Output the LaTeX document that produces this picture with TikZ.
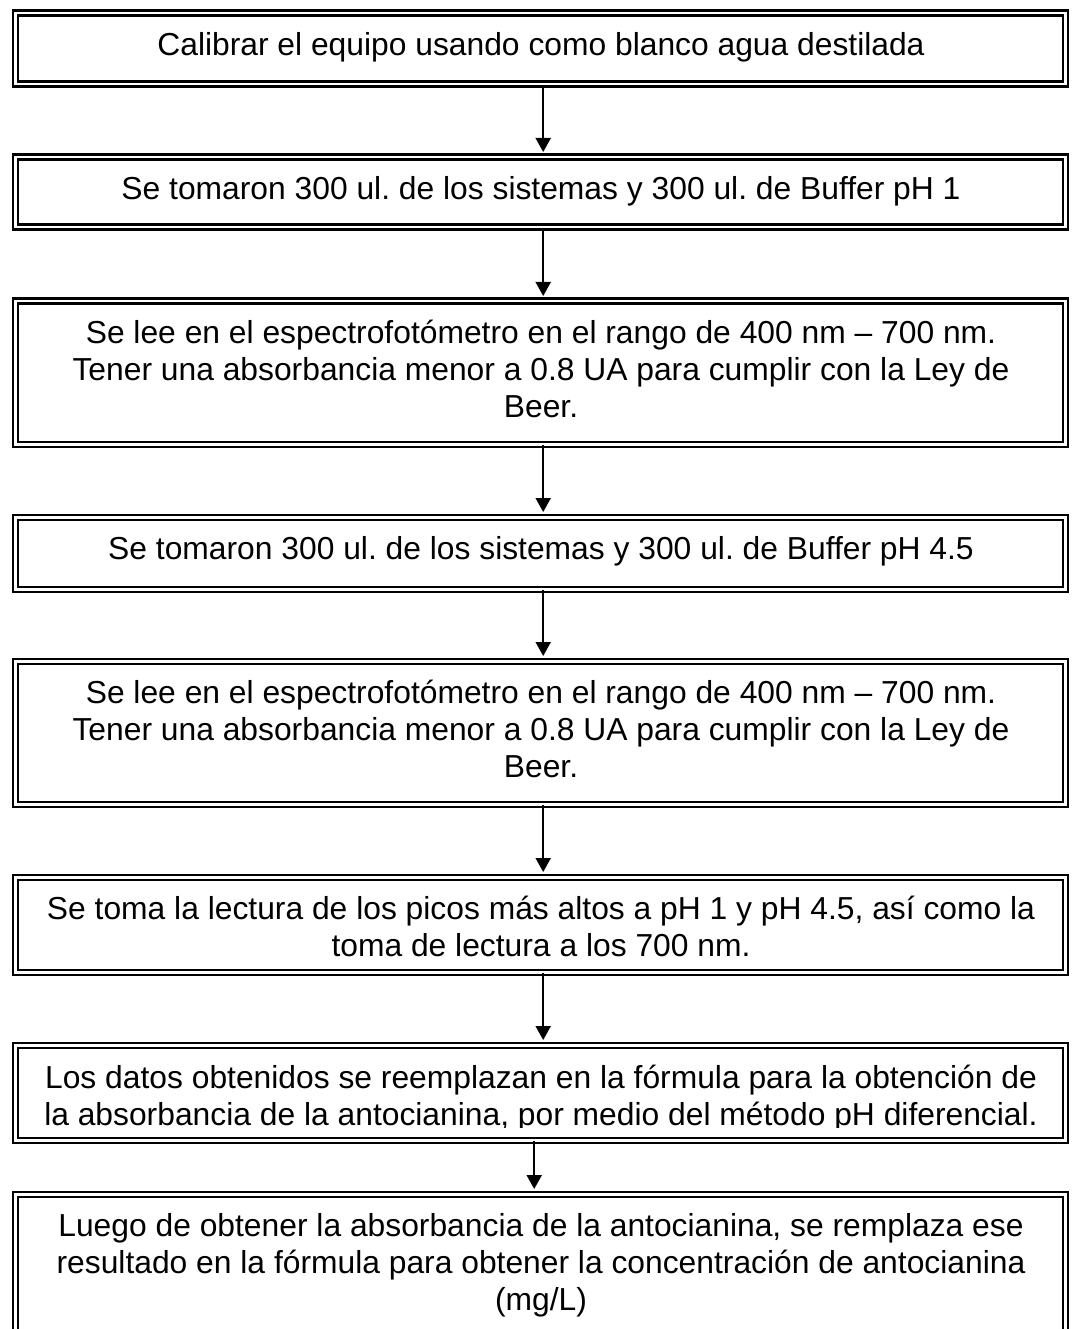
\documentclass[tikz,border=0pt]{standalone}
\usepackage{fontspec}
\setmainfont{Liberation Sans}
\usetikzlibrary{arrows.meta}
\frenchspacing
\begin{document}
\begin{tikzpicture}[x=1pt,y=-1pt,
  stepbox/.style={draw=black, double=white, double distance=2.6pt, line width=2.4pt,
    minimum width=1050pt, anchor=north west, inner sep=0pt},
  txt/.style={font=\fontsize{31.8}{37}\selectfont\frenchspacing, align=center, inner sep=0pt, anchor=north},
  arr/.style={-{Triangle[length=14pt,width=15pt]}, line width=2pt, shorten >=4pt}]
\useasboundingbox (0,0) rectangle (1073,1329);
\clip (0,0) rectangle (1073,1329);
% boxes
\node[stepbox, minimum height=71pt] (b1) at (14,12) {};
\node[stepbox, minimum height=70pt] (b2) at (14,156) {};
\node[stepbox, minimum height=143pt] (b3) at (14,300) {};
\node[stepbox, minimum height=72pt] (b4) at (14,516) {};
\node[stepbox, minimum height=143pt] (b5) at (14,660) {};
\node[stepbox, minimum height=95pt] (b6) at (14,876) {};
\node[stepbox, minimum height=95pt] (b7) at (14,1044) {};
\node[stepbox, minimum height=160pt] (b8) at (14,1193) {};
% texts
\node[txt] (t1) at (541,29.1) {\strut Calibrar el equipo usando como blanco agua destilada};
\node[txt] (t2) at (541,173.1) {\strut Se tomaron 300 ul. de los sistemas y 300 ul. de Buffer pH 1};
\node[txt] (t3) at (541,317.1) {\strut Se lee en el espectrofotómetro en el rango de 400 nm – 700 nm.\\Tener una absorbancia menor a 0.8 UA para cumplir con la Ley de\\Beer.};
\node[txt] (t4) at (541,533.1) {\strut Se tomaron 300 ul. de los sistemas y 300 ul. de Buffer pH 4.5};
\node[txt] (t5) at (541,677.1) {\strut Se lee en el espectrofotómetro en el rango de 400 nm – 700 nm.\\Tener una absorbancia menor a 0.8 UA para cumplir con la Ley de\\Beer.};
\node[txt] (t6) at (541,893.1) {\strut Se toma la lectura de los picos más altos a pH 1 y pH 4.5, así como la\\toma de lectura a los 700 nm.};
\begin{scope}
\clip (18,1048) rectangle (1060,1127);
\node[txt] (t7) at (541,1062.1) {\strut Los datos obtenidos se reemplazan en la fórmula para la obtención de\\la absorbancia de la antocianina, por medio del método pH diferencial.};
\end{scope}
\node[txt] (t8) at (541,1210.1) {\strut Luego de obtener la absorbancia de la antocianina, se remplaza ese\\resultado en la fórmula para obtener la concentración de antocianina\\(mg/L)};
% arrows
\draw[arr] ([xshift=3pt]b1.south) -- ([xshift=3pt]b2.north);
\draw[arr] ([xshift=3pt]b2.south) -- ([xshift=3pt]b3.north);
\draw[arr] ([xshift=3pt]b3.south) -- ([xshift=3pt]b4.north);
\draw[arr] ([xshift=3pt]b4.south) -- ([xshift=3pt]b5.north);
\draw[arr] ([xshift=3pt]b5.south) -- ([xshift=3pt]b6.north);
\draw[arr] ([xshift=3pt]b6.south) -- ([xshift=3pt]b7.north);
\draw[arr] ([xshift=-6pt]b7.south) -- ([xshift=-6pt]b8.north);
\end{tikzpicture}
\end{document}
